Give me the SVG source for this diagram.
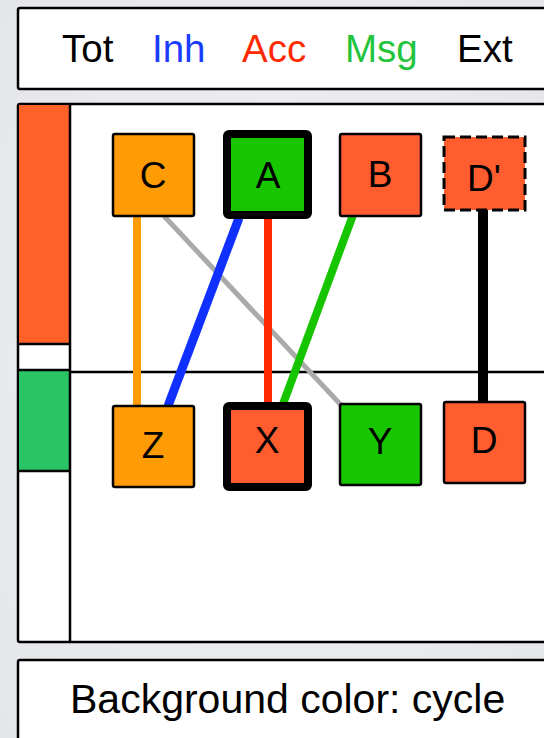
<svg xmlns="http://www.w3.org/2000/svg" width="544" height="738" viewBox="0 0 544 738">
<defs>
<radialGradient id="bg" cx="50%" cy="50%" r="75%">
<stop offset="0" stop-color="#f1f2f5"/>
<stop offset="1" stop-color="#e3e5e9"/>
</radialGradient>
<style>
text{font-family:"Liberation Sans",Arial,sans-serif;fill:#000}
.hdr{font-size:38.5px}
.lbl{font-size:37px;text-anchor:middle}
.box{stroke:#000;stroke-width:2.5}
.frame{fill:#fff;stroke:#000;stroke-width:2.5}
.orange{fill:#ff9c05}
.red{fill:#ff5c30}
.green{fill:#17c500}
.edge{fill:none;stroke-linecap:butt}
</style>
</defs>
<rect width="544" height="738" fill="url(#bg)"/>
<g id="legend">
<rect class="frame" x="18" y="8" width="560" height="81" rx="2"/>
<text class="hdr" x="62" y="62">Tot</text>
<text class="hdr" x="152" y="62" style="fill:#1a3cff">Inh</text>
<text class="hdr" x="242" y="62" style="fill:#ff2a00">Acc</text>
<text class="hdr" x="345" y="62" style="fill:#22c43c">Msg</text>
<text class="hdr" x="457" y="62">Ext</text>
</g>
<g id="panel">
<rect class="frame" x="18" y="104" width="560" height="538" rx="2"/>
<line x1="70" y1="372" x2="560" y2="372" stroke="#000" stroke-width="2.5"/>
<rect x="19" y="105" width="50" height="239" fill="#ff6128"/>
<rect x="19" y="371" width="50" height="99" fill="#29c464"/>
<line x1="70" y1="104" x2="70" y2="642" stroke="#000" stroke-width="2.5"/>
<line x1="18" y1="344" x2="70" y2="344" stroke="#000" stroke-width="2.5"/>
<line x1="18" y1="370" x2="70" y2="370" stroke="#000" stroke-width="2.5"/>
<line x1="18" y1="471" x2="70" y2="471" stroke="#000" stroke-width="2.5"/>
</g>
<g id="connectors">
<line class="edge" x1="137" y1="216" x2="137" y2="406" stroke="#ff9c05" stroke-width="8"/>
<line class="edge" x1="164" y1="216" x2="341" y2="405" stroke="#aaaaaa" stroke-width="5"/>
<line class="edge" x1="239" y1="218" x2="168" y2="406" stroke="#1030ff" stroke-width="9"/>
<line class="edge" x1="268" y1="218" x2="268" y2="404" stroke="#ff2a00" stroke-width="8"/>
<line class="edge" x1="353" y1="215" x2="283" y2="404" stroke="#16c500" stroke-width="8"/>
<line class="edge" x1="483" y1="210" x2="483" y2="402" stroke="#000" stroke-width="10"/>
</g>
<g id="node-C">
<rect class="box orange" x="113" y="134" width="81" height="82" rx="2"/>
<text class="lbl" x="153" y="188">C</text>
</g>
<g id="node-A">
<rect class="green" x="227" y="134" width="81" height="81" rx="2" stroke="#000" stroke-width="8"/>
<text class="lbl" x="268" y="188">A</text>
</g>
<g id="node-B">
<rect class="box red" x="340" y="134" width="81" height="82" rx="2"/>
<text class="lbl" x="380" y="187">B</text>
</g>
<g id="node-Dp">
<rect class="red" x="444" y="137" width="81" height="73" stroke="#000" stroke-width="3" stroke-dasharray="11,5"/>
<text class="lbl" x="484" y="191">D'</text>
</g>
<g id="node-Z">
<rect class="box orange" x="113" y="406" width="81" height="81" rx="2"/>
<text class="lbl" x="153" y="458">Z</text>
</g>
<g id="node-X">
<rect class="red" x="227" y="406" width="81" height="81" rx="2" stroke="#000" stroke-width="8"/>
<text class="lbl" x="267" y="453">X</text>
</g>
<g id="node-Y">
<rect class="box green" x="340" y="404" width="81" height="81" rx="2"/>
<text class="lbl" x="380" y="454">Y</text>
</g>
<g id="node-D">
<rect class="box red" x="444" y="402" width="81" height="81" rx="2"/>
<text class="lbl" x="484" y="453">D</text>
</g>
<g id="caption">
<rect class="frame" x="18" y="660" width="560" height="100" rx="2"/>
<text x="70" y="713" style="font-size:41px">Background color: cycle</text>
</g>
</svg>
